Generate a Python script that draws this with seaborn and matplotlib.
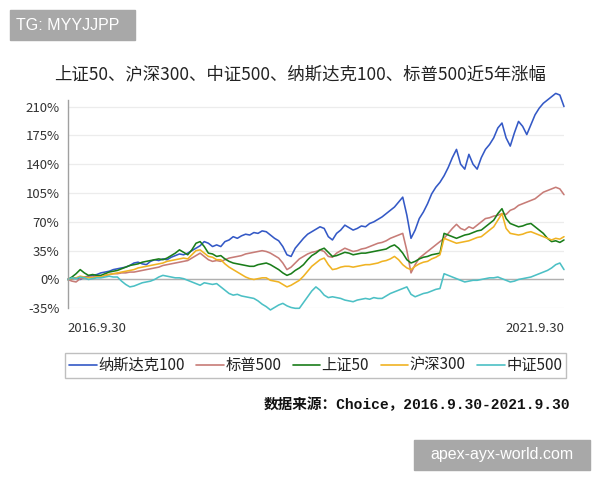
import numpy as np
import pandas as pd
import matplotlib
matplotlib.use("Agg")
import matplotlib.pyplot as plt
import seaborn as sns
from matplotlib.patches import Rectangle

# ---- data (cumulative return %, half-month steps from 2016.9.30 to 2021.9.30) ----
series_names = ["纳斯达克100", "标普500", "上证50", "沪深300", "中证500"]

nasdaq100 = [0, 1, 2, 0, 3, 4, 5, 6, 8, 9,
             10, 12, 13, 14, 15, 17, 20, 21, 19, 18,
             22, 24, 23, 25, 24, 27, 29, 31, 30, 32,
             35, 38, 41, 46, 44, 40, 42, 40, 46, 48,
             52, 50, 53, 55, 54, 57, 56, 59, 58, 54,
             50, 47, 40, 30, 28, 38, 44, 50, 55, 58,
             61, 64, 62, 52, 48, 56, 60, 66, 63, 60,
             62, 65, 64, 68, 70, 73, 76, 80, 84, 88,
             94, 100, 78, 50, 60, 74, 82, 92, 104, 112,
             118, 126, 136, 148, 158, 140, 134, 152, 140, 134,
             148, 158, 164, 172, 184, 190, 172, 162, 178, 192,
             186, 176, 188, 200, 208, 214, 218, 222, 226, 224,
             210]

sp500 = [0, -2, -3, 1, 2, 3, 3, 4, 3, 5,
         6, 7, 7, 8, 8, 9, 9, 10, 11, 12,
         13, 14, 15, 17, 18, 19, 20, 21, 22, 23,
         26, 29, 32, 28, 24, 22, 23, 22, 24, 26,
         27, 28, 29, 31, 32, 33, 34, 35, 34, 32,
         29, 26, 20, 12, 15, 20, 25, 28, 31, 33,
         34, 36, 34, 28, 27, 32, 35, 38, 36, 34,
         35, 37, 38, 40, 42, 44, 45, 47, 50, 52,
         54, 56, 35, 8, 18, 26, 30, 34, 38, 42,
         46, 50, 56, 62, 67, 62, 60, 64, 62, 66,
         70, 74, 75, 77, 78, 80, 79, 84, 86, 90,
         92, 94, 96, 98, 102, 106, 108, 110, 112, 110,
         103]

sse50 = [0, 3, 7, 12, 8, 5, 6, 5, 5, 7,
         9, 10, 11, 13, 15, 17, 18, 19, 21, 22,
         23, 24, 25, 24, 26, 29, 32, 36, 33, 30,
         36, 44, 46, 40, 32, 31, 28, 29, 25, 22,
         20, 19, 18, 17, 16, 16, 18, 19, 20, 18,
         15, 12, 8, 5, 7, 11, 14, 18, 24, 29,
         32, 36, 38, 33, 28, 29, 31, 33, 32, 30,
         31, 32, 32, 33, 34, 35, 36, 37, 40, 42,
         38, 32, 24, 20, 22, 25, 27, 28, 30, 31,
         32, 56, 54, 52, 50, 52, 54, 55, 57, 59,
         60, 64, 68, 72, 80, 86, 74, 68, 66, 64,
         65, 67, 68, 64, 60, 56, 50, 46, 47, 45,
         48]

hs300 = [0, 1, 2, 4, 3, 2, 2, 3, 3, 5,
         6, 7, 8, 9, 10, 11, 12, 14, 15, 16,
         17, 18, 19, 20, 22, 23, 24, 25, 26, 25,
         30, 35, 36, 32, 28, 27, 24, 24, 19, 15,
         12, 9, 6, 3, 1, 0, 1, 2, 2, -1,
         -2, -3, -6, -9, -7, -4, -1, 4, 10, 16,
         20, 24, 26, 18, 12, 13, 15, 16, 16, 15,
         16, 17, 18, 18, 19, 20, 22, 23, 25, 28,
         24, 18, 14, 12, 16, 19, 21, 22, 25, 27,
         30, 50, 48, 46, 44, 45, 46, 47, 49, 51,
         52, 56, 60, 64, 72, 80, 62, 56, 55, 54,
         55, 57, 58, 56, 54, 52, 50, 48, 50, 49,
         52]

zz500 = [0, 2, 1, 3, 2, 0, 1, 2, 2, 3,
         4, 3, 3, -2, -6, -9, -8, -6, -4, -3,
         -2, 0, 3, 5, 4, 3, 2, 2, 1, -1,
         -3, -5, -7, -4, -5, -6, -5, -9, -13, -17,
         -19, -18, -20, -21, -22, -23, -26, -30, -33, -37,
         -34, -31, -29, -32, -34, -35, -35, -28, -21, -14,
         -9, -13, -19, -22, -21, -22, -23, -25, -26, -27,
         -25, -24, -23, -24, -22, -23, -23, -20, -17, -15,
         -13, -11, -9, -18, -21, -19, -17, -16, -14, -12,
         -11, 7, 5, 3, 1, -1, -3, -2, -1, -1,
         0, 1, 2, 2, 3, 1, -1, -3, -2, 0,
         1, 2, 3, 5, 7, 9, 11, 14, 18, 20,
         12]

colors = ["#3459c6", "#c77c77", "#1a7d1a", "#f0b323", "#4cc0c5"]
yticks = [-35, 0, 35, 70, 105, 140, 175, 210]
xlabels = ["2016.9.30", "2021.9.30"]

frames = []
for name, vals in zip(series_names, [nasdaq100, sp500, sse50, hs300, zz500]):
    frames.append(pd.DataFrame({"t": np.arange(len(vals)) * 0.5,
                                "v": vals, "s": name}))
df = pd.concat(frames, ignore_index=True)

sns.set_theme(style="white")
plt.rcParams["font.family"] = ["Noto Sans CJK SC", "DejaVu Sans"]

fig = plt.figure(figsize=(6, 4.8), dpi=100)
ax = fig.add_axes([0.113, 0.3577, 0.827, 0.434])

sns.lineplot(data=df, x="t", y="v", hue="s", palette=colors,
             hue_order=series_names, linewidth=1.15, ax=ax, legend=False)
for ln in ax.lines:
    ln.set_clip_on(False)

ax.set_ylim(-35, 218)
ax.set_xlim(0, 60)
ax.set_yticks(yticks)
ax.set_yticklabels([f"{v}%" for v in yticks], fontsize=9.5, color="#333333")
ax.grid(axis="y", color="#ececec", linewidth=0.9)
ax.set_axisbelow(True)
ax.axhline(0, color="#b0b0b0", linewidth=1.0, zorder=1.5)
ax.tick_params(axis="y", length=0, pad=6)
ax.tick_params(axis="x", length=0, pad=10)
ax.set_xticks([0, 60])
ax.set_xticklabels(xlabels, fontsize=9.5, color="#333333")
tl = ax.get_xticklabels()
tl[0].set_horizontalalignment("left")
tl[1].set_horizontalalignment("right")
ax.set_xlabel("")
ax.set_ylabel("")
for side in ["top", "right", "bottom"]:
    ax.spines[side].set_visible(False)
ax.spines["left"].set_color("#a0a0a0")
ax.spines["left"].set_linewidth(1.0)

fig.text(0.5, 0.845, "上证50、沪深300、中证500、纳斯达克100、标普500近5年涨幅",
         ha="center", va="center", fontsize=12.5, color="#222222")

handles = [plt.Line2D([0], [0], color=c, linewidth=1.2) for c in colors]
leg = fig.legend(handles, series_names, loc="center",
                 bbox_to_anchor=(0.526, 0.2385), ncol=5, frameon=True,
                 fancybox=False, edgecolor="#b0b0b0", fontsize=11,
                 handlelength=1.8, handletextpad=0.1, columnspacing=0.75,
                 borderpad=0.25, borderaxespad=0)
leg.get_frame().set_linewidth(1.0)
for t in leg.get_texts():
    t.set_color("#222222")

fig.text(0.95, 0.156, "数据来源：Choice，2016.9.30-2021.9.30",
         ha="right", va="center", fontsize=10.5, fontweight="bold",
         family=["Liberation Mono", "Noto Sans CJK SC"], color="#111111")

# watermark boxes
fig.patches.append(Rectangle((10 / 600, 1 - 40 / 480), 125 / 600, 30 / 480,
                             transform=fig.transFigure, color="#a8a8a8", zorder=0))
fig.text(16 / 600, 1 - 25 / 480, "TG: MYYJJPP", ha="left", va="center",
         fontsize=11.5, color="white", family=["Liberation Sans", "DejaVu Sans"])
fig.patches.append(Rectangle((414 / 600, 1 - 470 / 480), 176 / 600, 30 / 480,
                             transform=fig.transFigure, color="#a8a8a8", zorder=0))
fig.text(502 / 600, 1 - 455 / 480, "apex-ayx-world.com", ha="center", va="center",
         fontsize=11.5, color="white", family=["Liberation Sans", "DejaVu Sans"])

fig.savefig("out.png", dpi=100)
